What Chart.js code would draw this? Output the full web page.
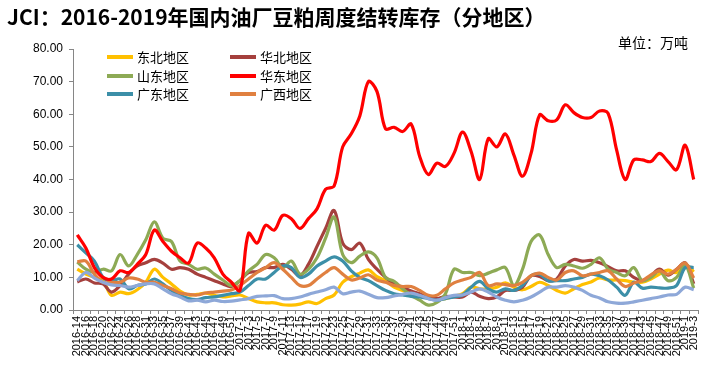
<!DOCTYPE html>
<html lang="zh">
<head>
<meta charset="UTF-8">
<title>JCI 国内油厂豆粕周度结转库存</title>
<script src="https://cdn.jsdelivr.net/npm/chart.js"></script>
<style>
  body { margin: 0; background: #fff; }
  #wrap { position: relative; width: 728px; height: 379px; overflow: hidden; font-family: "Noto Sans CJK SC", sans-serif; }
  #title { position: absolute; left: 7px; top: 1px; font-size: 21px; font-weight: bold; color: #000; white-space: nowrap; }
  #unit { position: absolute; left: 618px; top: 32px; font-size: 14px; color: #000; white-space: nowrap; }
  .leg { position: absolute; font-size: 13px; line-height: 16px; display: flex; align-items: center; white-space: nowrap; }
  .leg i { display: inline-block; width: 26px; height: 4px; margin-right: 4px; }
  canvas { position: absolute; left: 0; top: 0; }
</style>
</head>
<body>
<div id="wrap">
  <canvas id="stockChart" width="728" height="379"></canvas>
  <div id="title">JCI：2016-2019年国内油厂豆粕周度结转库存（分地区）</div>
  <div id="unit">单位：万吨</div>
  <div id="legend"></div>
</div>
<script>
// week labels (one every two weeks)
const weeks = [
  '2016-14', '2016-16', '2016-18', '2016-20', '2016-22', '2016-24', '2016-26', '2016-28',
  '2016-31', '2016-33', '2016-35', '2016-37', '2016-39', '2016-41', '2016-43', '2016-45',
  '2016-47', '2016-49', '2016-51',
  '2017-1', '2017-3', '2017-5', '2017-7', '2017-9', '2017-11', '2017-13', '2017-15',
  '2017-17', '2017-19', '2017-21', '2017-23', '2017-25', '2017-27', '2017-29', '2017-31',
  '2017-33', '2017-35', '2017-37', '2017-39', '2017-41', '2017-43', '2017-45', '2017-47',
  '2017-49', '2017-51',
  '2018-1', '2018-3', '2018-5', '2018-7', '2018-9', '2018-11', '2018-13', '2018-15',
  '2018-17', '2018-19', '2018-21', '2018-23', '2018-25', '2018-27', '2018-29', '2018-31',
  '2018-33', '2018-35', '2018-37', '2018-39', '2018-41', '2018-43', '2018-45', '2018-47',
  '2018-49', '2018-51',
  '2019-1', '2019-3'
];

const yTicks = [0, 10, 20, 30, 40, 50, 60, 70, 80];

// 万吨
const dongbei = [12.5, 11, 10, 9, 4.5, 5.5, 5, 6.2, 8.5, 12.5,
  10, 8, 5.8, 4.6, 4.8, 5.2, 4.5, 4, 4.3, 4.6,
  3.5, 2.5, 2.2, 2.2, 1.6, 1.5, 1.8, 2.5, 2, 3.5,
  4.6, 8.5, 10.2, 11.3, 12.3, 10.2, 9, 7, 6, 5.2,
  4.5, 3.8, 3.3, 3.5, 4.2, 5, 7, 6.5, 6.5, 7,
  8.3, 7, 6.2, 7.2, 8.5, 7.5, 6, 5.2, 6.5, 7.8,
  8.6, 9.8, 9.2, 9.2, 9, 8.5, 8.5, 9.5, 11, 12.2,
  11.5, 14, 11.7];

const huabei = [8.6, 9.5, 8.3, 8, 5.5, 7.5, 11, 13.5, 14.5, 15.5,
  14.4, 12.5, 13, 12.5, 11, 10, 9, 8, 7.2, 9,
  11.5, 11.8, 13, 13, 14, 12.5, 10.5, 14, 19.5, 25,
  30.5, 20.5, 18.5, 20.5, 15.5, 12.5, 10, 8, 7, 5.8,
  5, 4, 3.5, 4.2, 4, 4, 5.5, 4.2, 3.5, 4,
  6, 6, 7, 10.5, 10.3, 9, 9.5, 13.5, 15.5, 15,
  15.2, 14.5, 13.3, 12, 12, 10, 9, 10.5, 12.5, 10.7,
  12.5, 14.5, 8];

const shandong = [14.7, 12.5, 11.5, 12.5, 12, 17, 13.5, 17, 21.5, 27,
  22, 21, 15, 14, 12.5, 12.9, 11, 9.2, 7.5, 9,
  12, 14, 17, 16, 13, 15, 11, 12.5, 16, 22,
  28.5, 17, 14.5, 16.5, 17.8, 16, 10, 8.8, 6.5, 4.5,
  3, 1.5, 2.3, 5, 12.5, 11.5, 11.5, 10.5, 11.3, 12.3,
  13, 7.5, 12.5, 21, 23, 17, 13, 14, 13.5, 12.8,
  14, 16, 12.5, 11.5, 10.5, 13, 9, 10, 12, 9,
  10, 13.8, 6.7];

const huadong = [23, 19, 13, 10, 9.5, 12, 11.5, 14, 17, 24.5,
  21, 18, 16, 14.4, 20.5, 19, 16, 11, 8.5, 6,
  23.5, 20.5, 26, 24.5, 29, 28, 25, 28, 31, 37,
  38, 50, 54, 59.5, 70, 67, 55.5, 56, 54.7, 57,
  47, 41.5, 45, 44, 48, 54.5, 48.6, 40, 52.5, 50,
  54, 47.5, 41, 48, 59.8, 58, 58.3, 62.9, 60.5, 59,
  59, 61, 60.3, 49, 40, 46, 46, 45.5, 48, 45.5,
  43, 50.5, 40];

const guangdong = [20, 17.5, 15, 10, 9, 9.5, 6.5, 7.5, 8, 9.5,
  8, 6, 4.5, 3.5, 3.2, 3.8, 4, 4.5, 5, 5.5,
  7.5, 9.5, 9.5, 11.5, 13.5, 13, 10, 11, 13.5, 15,
  16.3, 15, 12, 10, 9, 7.5, 6, 5, 4.6, 4.2,
  4, 3.5, 3, 3.5, 4, 4.6, 7, 8.8, 6.5, 5.5,
  6.5, 6, 7.5, 10.5, 11, 9, 9, 9, 9.5, 10,
  11, 10.5, 9.2, 7, 4.5, 8.5, 6.7, 7, 6.8, 6.7,
  7.5, 13, 13];

const guangxi = [14.8, 15, 11, 8.5, 8.5, 8.5, 9.8, 9.5, 8.5, 8.5,
  7.5, 6.5, 5.2, 4.8, 4.6, 5.2, 5.5, 5.8, 6.1, 7.5,
  9.5, 11.5, 13, 14.5, 12.5, 10, 7.5, 7.5, 9.5, 11.5,
  13, 11, 9.2, 9.8, 10.8, 9.2, 8.5, 7.5, 7.2, 7.2,
  6, 4.5, 4.5, 6.5, 8.3, 9.2, 10, 11.5, 7.5, 8,
  7.8, 7.5, 8.5, 10.5, 11.3, 10, 9.2, 11.5, 12, 10.5,
  11, 11.5, 12, 9.5, 7.2, 8.3, 9, 10.8, 12, 11,
  12.5, 14.4, 9.8];

// unlabeled series (light blue, not in the legend)
const other = [9, 11.5, 9.8, 8.5, 7.7, 7.5, 7, 7.5, 8, 8,
  6.5, 5, 4, 2.8, 3, 2.5, 3, 2.6, 2.7, 3.1,
  3.5, 4.2, 4.3, 4.4, 3.5, 3.5, 4, 4.8, 5.5, 6.2,
  7, 5, 5.5, 5.8, 4.8, 3.8, 3.8, 4.3, 4.8, 5.2,
  4.5, 3.5, 3, 3.8, 4.5, 4.6, 5.5, 6.5, 5.5, 4,
  3, 2.5, 3, 4, 5.5, 7, 7, 7.5, 7, 6,
  4.5, 3.7, 2.5, 2.1, 2.1, 2.5, 3, 3.5, 4, 4.6,
  4.8, 7, 6.2];

const series = [
  { label: '东北地区', data: dongbei, color: '#FFC000', order: 6 },
  { label: '华北地区', data: huabei, color: '#A5403D', order: 5 },
  { label: '山东地区', data: shandong, color: '#8DAA55', order: 4 },
  { label: '华东地区', data: huadong, color: '#FF0000', order: 0 },
  { label: '广东地区', data: guangdong, color: '#3C8FA8', order: 3 },
  { label: '广西地区', data: guangxi, color: '#E08040', order: 2 },
  { label: '', data: other, color: '#8EA8D8', order: 1 }
];

// legend, two columns
const legendBox = document.getElementById('legend');
const legCols = [107, 230];
const legRows = [49, 68, 86];
series.filter(s => s.label).forEach((s, i) => {
  const d = document.createElement('div');
  d.className = 'leg';
  d.style.left = legCols[i % 2] + 'px';
  d.style.top = legRows[Math.floor(i / 2)] + 'px';
  d.innerHTML = '<i style="background:' + s.color + '"></i>' + s.label;
  legendBox.appendChild(d);
});

const axisColor = '#868686';
const tickFont = { family: 'Liberation Sans', size: 11 };

new Chart(document.getElementById('stockChart'), {
  type: 'line',
  data: {
    labels: weeks,
    datasets: series.map(s => ({
      label: s.label,
      data: s.data,
      borderColor: s.color,
      backgroundColor: s.color,
      borderWidth: 3.2,
      pointRadius: 0,
      tension: 0.35,
      fill: false,
      order: s.order
    }))
  },
  options: {
    responsive: false,
    animation: false,
    layout: { padding: { top: 49, right: 30, left: 0, bottom: 0 } },
    plugins: { legend: { display: false }, tooltip: { enabled: false } },
    scales: {
      x: {
        offset: true,
        grid: { offset: true, drawOnChartArea: false, tickLength: 4, color: axisColor },
        border: { color: axisColor },
        ticks: { autoSkip: false, maxRotation: 90, minRotation: 90, padding: 2, color: '#000', font: tickFont },
        afterFit(scale) { scale.height = 69; }
      },
      y: {
        min: yTicks[0],
        max: yTicks[yTicks.length - 1],
        afterBuildTicks(scale) { scale.ticks = yTicks.map(v => ({ value: v })); },
        grid: { drawOnChartArea: false, tickLength: 4, color: axisColor },
        border: { color: axisColor },
        ticks: { color: '#000', padding: 6, font: { family: 'Liberation Sans', size: 12 }, callback: v => v.toFixed(2) },
        afterFit(scale) { scale.width = 73; }
      }
    }
  }
});
</script>
</body>
</html>
